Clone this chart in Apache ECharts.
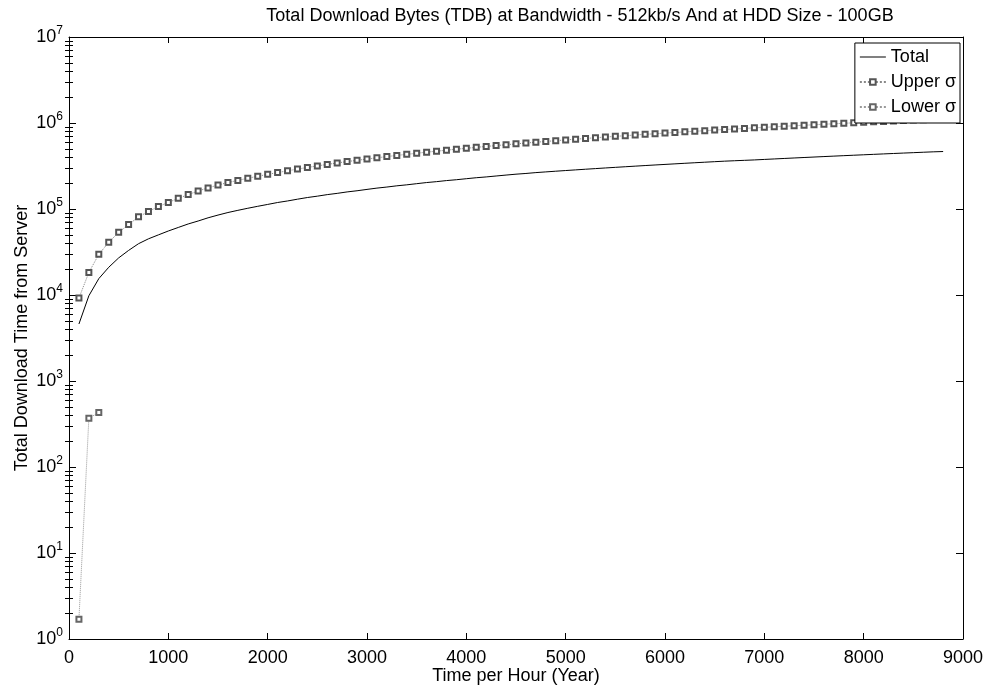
<!DOCTYPE html>
<html>
<head>
<meta charset="utf-8">
<script src="https://cdn.jsdelivr.net/npm/echarts@6/dist/echarts.min.js"></script>
<style>
html,body{margin:0;padding:0;background:#fff;}
#c{width:996px;height:690px;}
</style>
</head>
<body>
<div id="c"></div>
<script>
// ---- data ----
const hours = [100,200,300,400,500,600,700,800,900,1000,1100,1200,1300,1400,1500,1600,1700,1800,1900,2000,
  2100,2200,2300,2400,2500,2600,2700,2800,2900,3000,3100,3200,3300,3400,3500,3600,3700,3800,3900,4000,
  4100,4200,4300,4400,4500,4600,4700,4800,4900,5000,5100,5200,5300,5400,5500,5600,5700,5800,5900,6000,
  6100,6200,6300,6400,6500,6600,6700,6800,6900,7000,7100,7200,7300,7400,7500,7600,7700,7800,7900,8000,
  8100,8200,8300,8400,8500,8600,8700,8800];
const totalVals = [4600,9800,15500,21000,27000,33000,39500,45000,50000,55500,61000,67000,72500,79000,85000,91000,96500,102000,107500,113000,
  119000,124000,130000,136000,141000,147000,152000,158000,163000,169000,175000,180000,186000,191000,197000,203000,208000,214000,219000,225000,
  231000,236000,242000,248000,254000,259000,265000,270000,275000,280000,285000,290000,295000,300000,305000,310000,315000,320000,325000,330000,
  335000,340000,345000,350000,355000,360000,364000,368000,372000,377000,382000,387000,392000,397000,402000,407000,412000,417000,422000,427000,
  432000,437000,442000,447000,452000,457000,462000,466000];
const upperVals = [9200,18300,29700,41000,53500,66000,81000,93500,107000,119000,133000,147000,162000,176000,190000,203000,215000,228000,240000,253000,
  265000,278000,291000,304000,317000,330000,343000,356000,368000,381000,394000,407000,420000,432000,445000,458000,470000,483000,496000,508000,
  521000,534000,546000,559000,572000,585000,597000,610000,623000,636000,648000,661000,674000,687000,699000,712000,725000,738000,750000,763000,
  776000,789000,801000,814000,827000,840000,852000,865000,878000,890000,903000,916000,929000,941000,954000,967000,980000,992000,1005000,1018000,
  1031000,1043000,1056000,1069000,1082000,1094000,1107000,1120000];
const lowerHours = [100,200,300];
const lowerVals = [1.7,370,430];
const xTicks = [0,1000,2000,3000,4000,5000,6000,7000,8000,9000];
const yMajor = [1,10,100,1000,10000,100000,1000000,10000000];
const yMinor = [];
for (let d = 0; d < 7; d++) for (let k = 2; k <= 9; k++) yMinor.push(k * Math.pow(10, d));

const titleText = 'Total Download Bytes (TDB) at Bandwidth - 512kb/s And at HDD Size - 100GB';
const xName = 'Time per Hour (Year)';
const yName = 'Total Download Time from Server';
const seriesNames = ['Total', 'Upper σ', 'Lower σ'];

const FONT = '"Liberation Sans", Arial, Helvetica, sans-serif';
const zip = (a, b) => a.map((v, i) => [v, b[i]]);

const chart = echarts.init(document.getElementById('c'), null, {renderer: 'canvas'});

const baseY = {
  type: 'log', logBase: 10, min: 1, max: 10000000,
  splitLine: {show: false}, minorTick: {show: false}, minorSplitLine: {show: false}
};

chart.setOption({
  animation: false,
  backgroundColor: '#fff',
  textStyle: {fontFamily: FONT, color: '#000'},
  title: {
    text: titleText, left: 575, top: 2, textAlign: 'center',
    textStyle: {fontFamily: FONT, fontSize: 18, fontWeight: 'normal', color: '#000'}
  },
  grid: {left: 69, right: 33, top: 37, bottom: 49, containLabel: false},
  legend: {
    orient: 'vertical', right: 36, top: 43, align: 'left',
    data: [
      {name: seriesNames[0], icon: 'path://M0,0L26,0L26,1L0,1Z'},
      {name: seriesNames[1]},
      {name: seriesNames[2]}
    ],
    symbolKeepAspect: true,
    backgroundColor: '#fff', borderColor: '#000', borderWidth: 1,
    padding: [5, 4, 7, 4], itemGap: 7, itemWidth: 26, itemHeight: 7,
    textStyle: {fontFamily: FONT, fontSize: 18, lineHeight: 18, color: '#000'}
  },
  xAxis: [
    {
      type: 'value', position: 'bottom', min: 0, max: 9000, interval: 1000,
      name: xName, nameLocation: 'middle', nameGap: 28, nameMoveOverlap: false,
      nameTextStyle: {fontFamily: FONT, fontSize: 18, color: '#000'},
      axisLine: {show: true, onZero: false, lineStyle: {color: '#000', width: 1}},
      axisTick: {show: true, inside: true, length: 6, lineStyle: {color: '#000'}},
      axisLabel: {show: true, margin: 10, fontFamily: FONT, fontSize: 18, color: '#000',
        customValues: xTicks, formatter: v => String(v)},
      splitLine: {show: false}
    },
    {
      type: 'value', position: 'top', min: 0, max: 9000, interval: 1000,
      axisLine: {show: true, onZero: false, lineStyle: {color: '#000', width: 1}},
      axisTick: {show: true, inside: true, length: 6, lineStyle: {color: '#000'}},
      axisLabel: {show: false}, splitLine: {show: false}
    }
  ],
  yAxis: [
    Object.assign({}, baseY, {
      position: 'left',
      name: yName, nameLocation: 'middle', nameGap: 38, nameRotate: 90, nameMoveOverlap: false,
      nameTextStyle: {fontFamily: FONT, fontSize: 18, color: '#000'},
      axisLine: {show: true, onZero: false, lineStyle: {color: '#000', width: 1}},
      axisTick: {show: true, inside: true, length: 7, customValues: yMajor, lineStyle: {color: '#000'}},
      axisLabel: {
        show: true, margin: 6, customValues: yMajor,
        formatter: function (v) {
          const e = Math.round(Math.log10(v));
          return '{b|10}{s|' + e + '}';
        },
        rich: {
          b: {fontFamily: FONT, fontSize: 18, color: '#000'},
          s: {fontFamily: FONT, fontSize: 12, color: '#000', padding: [0, 0, 12, 0]}
        }
      }
    }),
    Object.assign({}, baseY, {
      position: 'right',
      axisLine: {show: true, onZero: false, lineStyle: {color: '#000', width: 1}},
      axisTick: {show: true, inside: true, length: 7, customValues: yMajor, lineStyle: {color: '#000'}},
      axisLabel: {show: false}
    }),
    Object.assign({}, baseY, {
      position: 'left',
      axisLine: {show: false},
      axisTick: {show: true, inside: true, length: 4, customValues: yMinor, lineStyle: {color: '#000'}},
      axisLabel: {show: false}
    }),
    Object.assign({}, baseY, {
      position: 'right',
      axisLine: {show: false},
      axisTick: {show: true, inside: true, length: 4, customValues: yMinor, lineStyle: {color: '#000'}},
      axisLabel: {show: false}
    })
  ],
  series: [
    {
      name: seriesNames[0], type: 'line', xAxisIndex: 0, yAxisIndex: 0,
      data: zip(hours, totalVals), showSymbol: false, symbol: 'none',
      lineStyle: {color: '#000', width: 1}, itemStyle: {color: '#000'}
    },
    {
      name: seriesNames[1], type: 'line', xAxisIndex: 0, yAxisIndex: 0,
      data: zip(hours, upperVals), symbol: 'emptyRect', symbolSize: 5, showAllSymbol: true,
      lineStyle: {color: '#888', width: 1, type: 'dotted'},
      itemStyle: {color: '#555', borderColor: '#555', borderWidth: 1}
    },
    {
      name: seriesNames[2], type: 'line', xAxisIndex: 0, yAxisIndex: 0,
      data: zip(lowerHours, lowerVals), symbol: 'emptyRect', symbolSize: 5, showAllSymbol: true,
      lineStyle: {color: '#999', width: 1, type: 'dotted'},
      itemStyle: {color: '#666', borderColor: '#666', borderWidth: 1}
    }
  ]
});
</script>
</body>
</html>
